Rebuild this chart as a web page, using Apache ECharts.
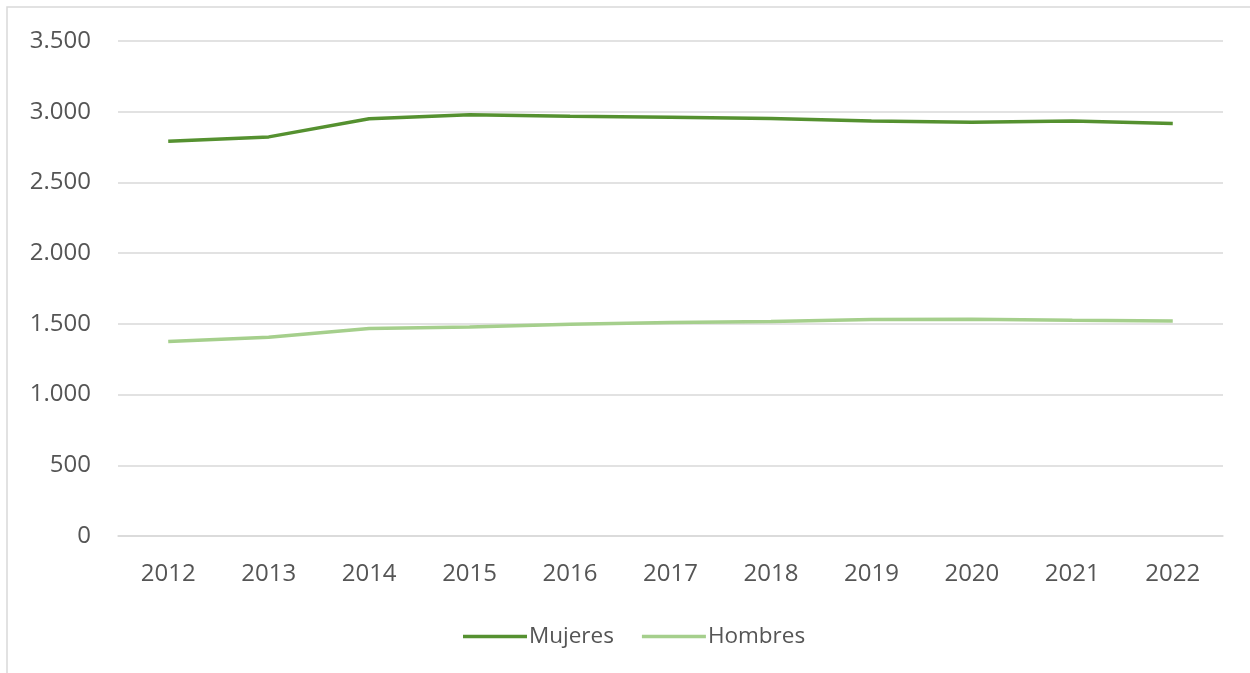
<!DOCTYPE html>
<html>
<head>
<meta charset="utf-8">
<script src="https://cdn.jsdelivr.net/npm/echarts@6/dist/echarts.min.js"></script>
<style>
  html, body { margin: 0; padding: 0; background: #ffffff; }
  #chart { width: 1250px; height: 673px; }
</style>
</head>
<body>
<div id="chart"></div>
<script>
// Years on the category axis
const years = ['2012', '2013', '2014', '2015', '2016', '2017', '2018', '2019', '2020', '2021', '2022'];

// Yearly counts by sex
const mujeres = [2791, 2822, 2950, 2978, 2968, 2961, 2952, 2935, 2926, 2935, 2916];
const hombres = [1375, 1406, 1467, 1477, 1497, 1509, 1516, 1530, 1533, 1526, 1521];

// Value axis range
const yMin = 0;
const yMax = 3500;
const yStep = 500;

const textFont = '"Open Sans", "Noto Sans", sans-serif';
const textColor = '#555555';
const gridColor = '#d9d9d9';

// Thousands separator with a dot
function fmtThousands(v) {
  return String(v).replace(/\B(?=(\d{3})+(?!\d))/g, '.');
}

const chart = echarts.init(document.getElementById('chart'), null, { renderer: 'canvas' });

chart.setOption({
  animation: false,
  backgroundColor: '#ffffff',
  graphic: [{
    type: 'rect',
    silent: true,
    shape: { x: 7, y: 7, width: 1300, height: 700 },
    style: { fill: 'none', stroke: gridColor, lineWidth: 1.5 }
  }],
  grid: { left: 118, right: 27, top: 41, bottom: 137, containLabel: false },
  legend: {
    left: 458,
    top: 620,
    icon: 'rect',
    itemWidth: 64,
    itemHeight: 3.5,
    itemGap: 28,
    textStyle: { fontFamily: textFont, fontSize: 22.5, color: textColor, padding: [0, 0, 0, -3] },
    data: ['Mujeres', 'Hombres']
  },
  xAxis: {
    type: 'category',
    data: years,
    boundaryGap: true,
    axisLine: { show: true, lineStyle: { color: gridColor, width: 1.5 } },
    axisTick: { show: false },
    axisLabel: { fontFamily: textFont, fontSize: 24, color: textColor, margin: 26 }
  },
  yAxis: {
    type: 'value',
    min: yMin,
    max: yMax,
    interval: yStep,
    axisLine: { show: false },
    axisTick: { show: false },
    splitLine: { lineStyle: { color: gridColor, width: 1.5 } },
    axisLabel: {
      fontFamily: textFont, fontSize: 24, color: textColor, margin: 27,
      formatter: fmtThousands
    }
  },
  series: [
    {
      name: 'Mujeres',
      type: 'line',
      data: mujeres,
      symbol: 'none',
      smooth: false,
      lineStyle: { color: '#559130', width: 3.5 },
      itemStyle: { color: '#559130' }
    },
    {
      name: 'Hombres',
      type: 'line',
      data: hombres,
      symbol: 'none',
      smooth: false,
      lineStyle: { color: '#a5cf8c', width: 3.5 },
      itemStyle: { color: '#a5cf8c' }
    }
  ]
});
</script>
</body>
</html>
